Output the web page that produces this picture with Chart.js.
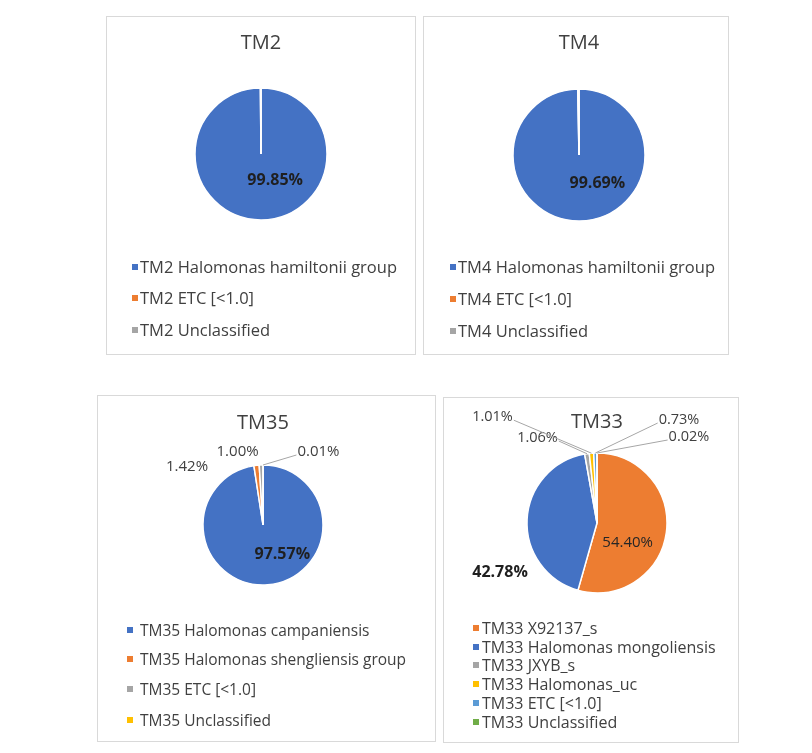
<!DOCTYPE html>
<html>
<head>
<meta charset="utf-8">
<script src="https://cdn.jsdelivr.net/npm/chart.js@4/dist/chart.umd.min.js"></script>
<style>
  html, body { margin: 0; padding: 0; background: #fff; }
  body { width: 812px; height: 753px; position: relative; overflow: hidden; font-family: "Open Sans", sans-serif; }
  .panel { position: absolute; border: 1px solid #d9d9d9; box-sizing: border-box; background: #fff; }
  canvas.pie { position: absolute; }
  .mk { position: absolute; width: 6px; height: 6px; }
  .lt { position: absolute; white-space: nowrap; color: #404040; line-height: 20px; height: 20px; }
</style>
</head>
<body>
<div class="panel" style="left:106px;top:16px;width:310px;height:339px"></div>
<div class="panel" style="left:423px;top:16px;width:306px;height:339px"></div>
<div class="panel" style="left:97px;top:395px;width:339px;height:347px"></div>
<div class="panel" style="left:443px;top:397px;width:296px;height:346px"></div>
<canvas id="c2" class="pie"></canvas>
<canvas id="c4" class="pie"></canvas>
<canvas id="c35" class="pie"></canvas>
<canvas id="c33" class="pie"></canvas>
<script>
// ---------------- data ----------------
const tm2Title = 'TM2';
const tm2Categories = ['TM2 Halomonas hamiltonii group', 'TM2 ETC [<1.0]', 'TM2 Unclassified'];
const tm2Values = [99.85, 0.12, 0.03];

const tm4Title = 'TM4';
const tm4Categories = ['TM4 Halomonas hamiltonii group', 'TM4 ETC [<1.0]', 'TM4 Unclassified'];
const tm4Values = [99.69, 0.25, 0.06];

const tm35Title = 'TM35';
const tm35Categories = ['TM35 Halomonas campaniensis', 'TM35 Halomonas shengliensis group', 'TM35 ETC [<1.0]', 'TM35 Unclassified'];
const tm35Values = [97.57, 1.42, 1.00, 0.01];

const tm33Title = 'TM33';
const tm33Categories = ['TM33 X92137_s', 'TM33 Halomonas mongoliensis', 'TM33 JXYB_s', 'TM33 Halomonas_uc', 'TM33 ETC [<1.0]', 'TM33 Unclassified'];
const tm33Values = [54.40, 42.78, 1.06, 1.01, 0.73, 0.02];

// ---------------- styles ----------------
const BLUE = '#4472C4', ORANGE = '#ED7D31', GRAY = '#A5A5A5', YELLOW = '#FFC000', LBLUE = '#5B9BD5', GREEN = '#70AD47';
const colors3 = [BLUE, ORANGE, GRAY];
const colors35 = [BLUE, ORANGE, GRAY, YELLOW];
const colors33 = [ORANGE, BLUE, GRAY, YELLOW, LBLUE, GREEN];
const FONT = '"Open Sans", sans-serif';

// data-label plugin: positions derived from arc geometry plus small offsets
const pieLabels = {
  id: 'pieLabels',
  afterDatasetsDraw(chart, args, opts) {
    const specs = opts.specs || [];
    const meta = chart.getDatasetMeta(0);
    const vals = chart.data.datasets[0].data;
    const ctx = chart.ctx;
    meta.data.forEach((arc, i) => {
      const s = specs[i];
      if (!s) return;
      const p = arc.getProps(['x', 'y', 'startAngle', 'endAngle', 'outerRadius'], true);
      const mid = (p.startAngle + p.endAngle) / 2;
      let ax, ay;
      if (s.mode === 'in') {
        const t = arc.tooltipPosition(true);
        ax = t.x; ay = t.y;
      } else {
        ax = p.x + Math.cos(mid) * p.outerRadius;
        ay = p.y + Math.sin(mid) * p.outerRadius;
      }
      const lx = ax + s.dx, ly = ay + s.dy;
      const text = vals[i].toFixed(2) + '%';
      ctx.save();
      ctx.font = (s.bold ? 'bold ' : '') + s.size + 'px ' + FONT;
      ctx.textAlign = 'center';
      ctx.textBaseline = 'middle';
      const w = ctx.measureText(text).width;
      if (s.leader) {
        ctx.strokeStyle = '#a6a6a6';
        ctx.lineWidth = 1;
        ctx.beginPath();
        ctx.moveTo(ax, ay);
        const sx = s.dx > 0 ? lx - w / 2 - 1 : lx + w / 2 + 1;
        ctx.lineTo(sx, ly + 3);
        ctx.stroke();
      }
      ctx.fillStyle = s.color || '#404040';
      ctx.fillText(text, lx, ly);
      ctx.restore();
    });
  }
};

function makePie(id, g, title, cats, vals, colors, specs) {
  const canvas = document.getElementById(id);
  canvas.style.left = g.x + 'px';
  canvas.style.top = g.y + 'px';
  canvas.width = g.w; canvas.height = g.h;
  canvas.style.width = g.w + 'px'; canvas.style.height = g.h + 'px';
  const bw = 1.5;
  const cxr = g.cx - g.x, cyr = g.cy - g.y;
  const half = g.r + bw / 2;
  const lh = 26;
  const padTop = (g.titleY - g.y) - lh / 2;
  const padBottom = g.h - (cyr + half);
  const titleGap = (cyr - half) - padTop - lh;
  return new Chart(canvas, {
    type: 'pie',
    data: {
      labels: cats,
      datasets: [{ data: vals, backgroundColor: colors, borderColor: '#ffffff', borderWidth: bw }]
    },
    options: {
      responsive: false,
      animation: false,
      devicePixelRatio: 1,
      layout: { padding: { left: cxr - half, right: g.w - cxr - half, top: padTop, bottom: padBottom } },
      plugins: {
        legend: { display: false },
        tooltip: { enabled: false },
        title: {
          display: true, text: title, color: '#404040',
          font: { family: FONT, size: 20, weight: 'normal', lineHeight: lh + 'px' },
          padding: { top: 0, bottom: titleGap }
        },
        pieLabels: { specs: specs }
      }
    },
    plugins: [pieLabels]
  });
}

function makeLegend(cats, colors, spec) {
  cats.forEach((c, i) => {
    const y = spec.rows[i];
    const m = document.createElement('div');
    m.className = 'mk';
    m.style.left = spec.markerX + 'px';
    m.style.top = (y - 3) + 'px';
    m.style.background = colors[i];
    document.body.appendChild(m);
    const t = document.createElement('div');
    t.className = 'lt';
    t.textContent = c;
    t.style.left = spec.textX + 'px';
    t.style.top = (y - 10.5) + 'px';
    t.style.fontSize = spec.size + 'px';
    document.body.appendChild(t);
  });
}

// ---------------- charts ----------------
makePie('c2', { x: 106, y: 16, w: 310, h: 339, cx: 261, cy: 154, r: 66, titleY: 43 },
  tm2Title, tm2Categories, tm2Values, colors3,
  [{ mode: 'in', dx: 14, dy: -7, bold: true, size: 16, color: '#1f1f1f' }, null, null]);
makeLegend(tm2Categories, colors3, { markerX: 132, textX: 140, rows: [267, 298, 330], size: 16.5 });

makePie('c4', { x: 423, y: 16, w: 306, h: 339, cx: 579, cy: 155, r: 66, titleY: 43 },
  tm4Title, tm4Categories, tm4Values, colors3,
  [{ mode: 'in', dx: 18, dy: -5, bold: true, size: 16, color: '#1f1f1f' }, null, null]);
makeLegend(tm4Categories, colors3, { markerX: 450, textX: 458, rows: [267, 299, 331], size: 16.5 });

makePie('c35', { x: 97, y: 395, w: 339, h: 347, cx: 263, cy: 525, r: 60, titleY: 423 },
  tm35Title, tm35Categories, tm35Values, colors35,
  [
    { mode: 'in', dx: 17, dy: 0, bold: true, size: 16, color: '#1f1f1f' },
    { mode: 'out', dx: -69.5, dy: 1.6, size: 15 },
    { mode: 'out', dx: -23.5, dy: -13, size: 15 },
    { mode: 'out', dx: 55.5, dy: -13, size: 15, leader: true }
  ]);
makeLegend(tm35Categories, colors35, { markerX: 127, textX: 140, rows: [630, 659, 689, 720], size: 15.5 });

makePie('c33', { x: 443, y: 397, w: 296, h: 346, cx: 597, cy: 523, r: 70, titleY: 422 },
  tm33Title, tm33Categories, tm33Values, colors33,
  [
    { mode: 'in', dx: -4, dy: 15, size: 15, color: '#262626' },
    { mode: 'in', dx: -62, dy: 51, bold: true, size: 16, color: '#1f1f1f' },
    { mode: 'out', dx: -49.5, dy: -15.7, size: 14.5, leader: true },
    { mode: 'out', dx: -99, dy: -36, size: 14.5, leader: true },
    { mode: 'out', dx: 83.7, dy: -33, size: 14.5, leader: true },
    { mode: 'out', dx: 92, dy: -16, size: 14.5, leader: true }
  ]);
makeLegend(tm33Categories, colors33, { markerX: 473, textX: 482, rows: [628, 647, 665, 684, 703, 722], size: 16 });
</script>
</body>
</html>
